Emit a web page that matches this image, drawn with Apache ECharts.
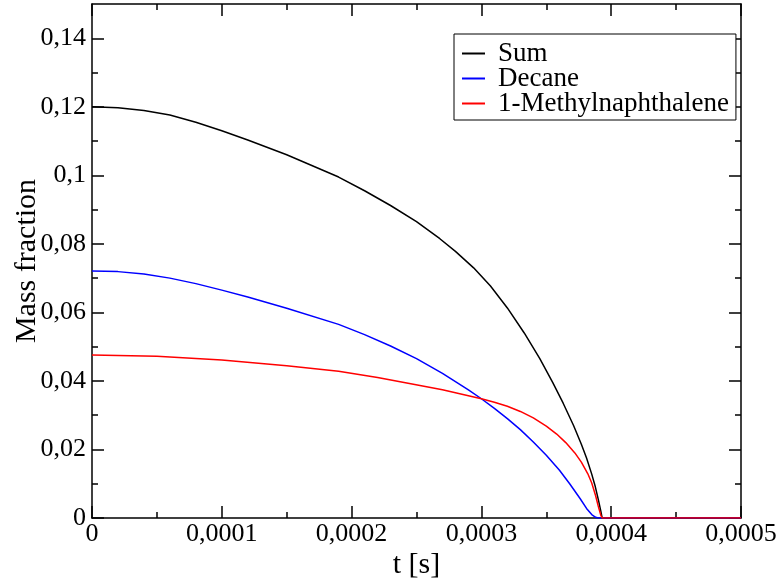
<!DOCTYPE html>
<html>
<head>
<meta charset="utf-8">
<script src="https://cdn.jsdelivr.net/npm/echarts@6/dist/echarts.min.js"></script>
<style>
html,body{margin:0;padding:0;background:#fff;}
#c{width:779px;height:583px;}
</style>
</head>
<body>
<div id="c"></div>
<script>
// ---- data ----
const seriesNames = ['Sum', 'Decane', '1-Methylnaphthalene'];
const seriesColors = ['#000000', '#0000ff', '#ff0000'];

const tSum = [0, 0.00002, 0.00004, 0.00006, 0.00008, 0.0001, 0.00012, 0.00015, 0.00019, 0.00021, 0.00023, 0.00025, 0.000268, 0.00028, 0.000294, 0.000307, 0.00032, 0.000333, 0.000345, 0.000355, 0.000363, 0.000371, 0.000377, 0.000381, 0.000385, 0.0003875, 0.00039, 0.000392, 0.000393, 0.0005];
const vSum = [0.1200, 0.1197, 0.1189, 0.1176, 0.1155, 0.1130, 0.1103, 0.1060, 0.0995, 0.0955, 0.0912, 0.0865, 0.0815, 0.0778, 0.0730, 0.0677, 0.0613, 0.0540, 0.0465, 0.0395, 0.0335, 0.0270, 0.0215, 0.0175, 0.0128, 0.0095, 0.0055, 0.0020, 0.0, 0.0];

const tDecane = [0, 0.00002, 0.00004, 0.00006, 0.00008, 0.0001, 0.00012, 0.00015, 0.00019, 0.00021, 0.00023, 0.00025, 0.00027, 0.00029, 0.0003, 0.00031, 0.00032, 0.00033, 0.00034, 0.00035, 0.00036, 0.000368, 0.000376, 0.000381, 0.000385, 0.000388, 0.00039, 0.0005];
const vDecane = [0.0721, 0.0719, 0.0712, 0.0700, 0.0684, 0.0665, 0.0645, 0.0612, 0.0565, 0.0535, 0.0502, 0.0465, 0.0422, 0.0374, 0.0348, 0.0320, 0.0290, 0.0258, 0.0222, 0.0183, 0.0140, 0.0100, 0.0057, 0.0028, 0.0010, 0.0002, 0.0, 0.0];

const tMN = [0, 0.00005, 0.0001, 0.00015, 0.00019, 0.00022, 0.0002425, 0.00027, 0.0003, 0.00031, 0.00032, 0.00033, 0.00034, 0.00035, 0.000358, 0.000365, 0.000372, 0.000377, 0.000382, 0.000385, 0.000388, 0.00039, 0.000392, 0.000393, 0.0005];
const vMN = [0.0476, 0.0472, 0.0461, 0.0444, 0.0428, 0.0410, 0.0394, 0.0374, 0.0348, 0.0338, 0.0326, 0.0311, 0.0292, 0.0268, 0.0245, 0.0220, 0.0190, 0.0163, 0.0129, 0.0102, 0.0065, 0.0035, 0.0008, 0.0, 0.0];

const xMajorTicks = [0, 0.0001, 0.0002, 0.0003, 0.0004, 0.0005];
const xMinorTicks = [0.00005, 0.00015, 0.00025, 0.00035, 0.00045];
const yMajorTicks = [0, 0.02, 0.04, 0.06, 0.08, 0.1, 0.12, 0.14];
const yMinorTicks = [0.01, 0.03, 0.05, 0.07, 0.09, 0.11, 0.13];

const xName = 't [s]';
const yName = 'Mass fraction';

// ---- chart ----
const FONT = "'Liberation Serif', 'Times New Roman', serif";
const zip = (t, v) => t.map((x, i) => [x, v[i]]);
const fmtX = v => v === 0 ? '0' : v.toFixed(4).replace('.', ',');
const fmtY = v => v === 0 ? '0' : String(+v.toFixed(2)).replace('.', ',');
const lineStyle = { color: '#000', width: 1.5 };

function xAx(pos, ticks, len, labels, line) {
  return {
    type: 'value', min: 0, max: 0.0005, position: pos,
    axisLine: { show: line, onZero: false, lineStyle },
    axisTick: { show: true, inside: true, length: len, customValues: ticks, lineStyle },
    axisLabel: labels ? { show: true, customValues: ticks, formatter: fmtX, fontFamily: FONT, fontSize: 26, color: '#000', margin: 3 } : { show: false },
    splitLine: { show: false },
    name: labels ? xName : '', nameLocation: 'middle', nameGap: 32, nameMoveOverlap: false,
    nameTextStyle: { fontFamily: FONT, fontSize: 30, color: '#000' }
  };
}
function yAx(pos, ticks, len, labels, line) {
  return {
    type: 'value', min: 0, max: 0.15, position: pos,
    axisLine: { show: line, onZero: false, lineStyle },
    axisTick: { show: true, inside: true, length: len, customValues: ticks, lineStyle },
    axisLabel: labels ? { show: true, customValues: ticks, formatter: fmtY, fontFamily: FONT, fontSize: 26, color: '#000', margin: 6 } : { show: false },
    splitLine: { show: false },
    name: labels ? yName : '', nameLocation: 'middle', nameGap: 50, nameRotate: 90, nameMoveOverlap: false,
    nameTextStyle: { fontFamily: FONT, fontSize: 30, color: '#000' }
  };
}

const chart = echarts.init(document.getElementById('c'), null, { renderer: 'canvas' });
const tData = [tSum, tDecane, tMN];
const vData = [vSum, vDecane, vMN];

chart.setOption({
  animation: false,
  backgroundColor: '#fff',
  textStyle: { fontFamily: FONT },
  grid: { left: 92, right: 38, top: 4, bottom: 65, containLabel: false, outerBoundsMode: 'none' },
  xAxis: [
    xAx('bottom', xMajorTicks, 12, true, true),
    xAx('bottom', xMinorTicks, 6, false, false),
    xAx('top', xMajorTicks, 12, false, true),
    xAx('top', xMinorTicks, 6, false, false)
  ],
  yAxis: [
    yAx('left', yMajorTicks, 12, true, true),
    yAx('left', yMinorTicks, 6, false, false),
    yAx('right', yMajorTicks, 12, false, true),
    yAx('right', yMinorTicks, 6, false, false)
  ],
  legend: {
    show: true, orient: 'vertical', left: 454, top: 34,
    padding: [6, 7, 3, 8], itemGap: -2,
    backgroundColor: '#fff', borderColor: '#000', borderWidth: 1, borderRadius: 0,
    icon: 'rect', itemWidth: 23, itemHeight: 2,
    textStyle: { fontFamily: FONT, fontSize: 27, color: '#000', padding: [0, 0, 0, 8] },
    data: seriesNames
  },
  series: seriesNames.map((n, i) => ({
    name: n, type: 'line', xAxisIndex: 0, yAxisIndex: 0,
    data: zip(tData[i], vData[i]),
    showSymbol: false, symbol: 'none',
    smooth: false,
    color: seriesColors[i],
    lineStyle: { color: seriesColors[i], width: 1.5 },
    z: 2 + i
  }))
});
</script>
</body>
</html>
